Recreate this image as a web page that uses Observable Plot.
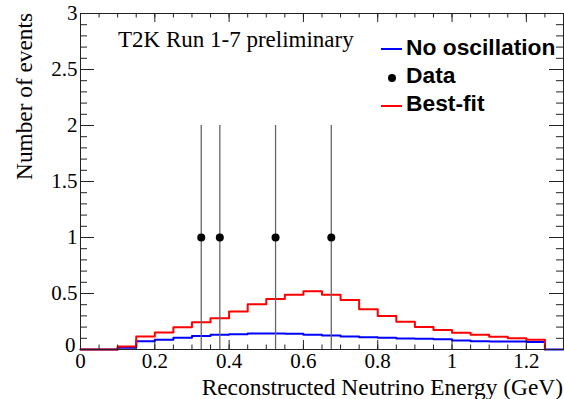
<!DOCTYPE html>
<html><head><meta charset="utf-8">
<script src="https://cdn.jsdelivr.net/npm/d3@7"></script>
<script src="https://cdn.jsdelivr.net/npm/@observablehq/plot@0.6"></script>
<style>body{margin:0;background:#fff}#chart{width:564px;height:399px}</style>
</head><body><div id="chart"></div>
<script>
// Histogram bins: lower edges (GeV), bin width 0.05, histogram ends at 1.25
const binEdges = [0,0.05,0.1,0.15,0.2,0.25,0.3,0.35,0.4,0.45,0.5,0.55,0.6,0.65,0.7,0.75,0.8,0.85,0.9,0.95,1.0,1.05,1.1,1.15,1.2];
const histEnd = 1.25;
const axisEnd = 1.3;
const bestFit = [0,0,0.027,0.116,0.152,0.199,0.244,0.28,0.339,0.405,0.45,0.488,0.521,0.488,0.443,0.36,0.298,0.247,0.202,0.173,0.149,0.131,0.113,0.101,0.086];
const noOsc   = [0,0,0.015,0.074,0.086,0.106,0.12,0.131,0.137,0.143,0.143,0.14,0.131,0.125,0.116,0.11,0.104,0.098,0.095,0.092,0.08,0.074,0.071,0.071,0.068];
// Data points
const dataX = [0.325,0.375,0.525,0.675];
const dataY = [1,1,1,1];
const dataErr = [1,1,1,1];
// Ticks
const xMajor = [0,0.2,0.4,0.6,0.8,1,1.2];
const xMinor = [0,0.05,0.1,0.15,0.2,0.25,0.3,0.35,0.4,0.45,0.5,0.55,0.6,0.65,0.7,0.75,0.8,0.85,0.9,0.95,1,1.05,1.1,1.15,1.2,1.25,1.3];
const yMajor = [0,0.5,1,1.5,2,2.5,3];
const yMinor = [0,0.1,0.2,0.3,0.4,0.5,0.6,0.7,0.8,0.9,1,1.1,1.2,1.3,1.4,1.5,1.6,1.7,1.8,1.9,2,2.1,2.2,2.3,2.4,2.5,2.6,2.7,2.8,2.9,3];
const legendLabels = ["No oscillation","Data","Best-fit"];
const titleText = "T2K Run 1-7 preliminary";
const xTitle = "Reconstructed Neutrino Energy (GeV)";
const yTitle = "Number of events";

const W = 564, H = 399, mL = 80, mR = 1, mT = 13, mB = 50;
const plotW = W - mL - mR, plotH = H - mT - mB;
const serif = "'Liberation Serif','Times New Roman',serif";
const sans = "'Liberation Sans',Arial,sans-serif";
const axisCol = "#222";

function stepPoints(vals, extend) {
  const pts = binEdges.map((e, i) => ({x: e, y: vals[i]}));
  pts.push({x: histEnd, y: 0});
  if (extend) pts.push({x: axisEnd, y: 0});
  return pts;
}
const dataPts = dataX.map((x, i) => ({x, y: dataY[i], lo: dataY[i] - dataErr[i], hi: dataY[i] + dataErr[i]}));
const fmt = d => String(+d.toFixed(1));
const yMajorNonZero = yMajor.filter(d => d !== 0);
const yZero = yMajor.filter(d => d === 0);

const plot = Plot.plot({
  width: W, height: H,
  marginLeft: mL, marginRight: mR, marginTop: mT, marginBottom: mB,
  style: {background: "white", color: "black", overflow: "visible"},
  x: {domain: [0, axisEnd]},
  y: {domain: [0, 3]},
  marks: [
    Plot.line(stepPoints(noOsc, true), {x: "x", y: "y", curve: "step-after", stroke: "#0000ff", strokeWidth: 2}),
    Plot.line(stepPoints(bestFit, false), {x: "x", y: "y", curve: "step-after", stroke: "#ff0000", strokeWidth: 2}),
    Plot.ruleX(dataPts, {x: "x", y1: "lo", y2: "hi", stroke: "#666", strokeWidth: 1.3}),
    Plot.dot(dataPts, {x: "x", y: "y", r: 4, fill: "black", stroke: null}),
    Plot.frame({stroke: axisCol, strokeWidth: 1}),
    // bottom / top ticks
    Plot.tickX(xMinor, {x: d => d, insetTop: plotH - 4.5, stroke: axisCol}),
    Plot.tickX(xMinor, {x: d => d, insetBottom: plotH - 4.5, stroke: axisCol}),
    Plot.tickX(xMajor, {x: d => d, insetTop: plotH - 9, stroke: axisCol}),
    Plot.tickX(xMajor, {x: d => d, insetBottom: plotH - 9, stroke: axisCol}),
    // left / right ticks
    Plot.tickY(yMinor, {y: d => d, insetRight: plotW - 7, stroke: axisCol}),
    Plot.tickY(yMinor, {y: d => d, insetLeft: plotW - 7, stroke: axisCol}),
    Plot.tickY(yMajor, {y: d => d, insetRight: plotW - 14, stroke: axisCol}),
    Plot.tickY(yMajor, {y: d => d, insetLeft: plotW - 14, stroke: axisCol}),
    Plot.axisX({ticks: xMajor, tickSize: 0, tickPadding: 4, tickFormat: fmt, fontSize: 21, fontFamily: serif, label: null}),
    Plot.axisY({ticks: yMajorNonZero, tickSize: 0, tickPadding: 3, tickFormat: fmt, fontSize: 21, fontFamily: serif, label: null}),
    Plot.axisY({ticks: yZero, tickSize: 0, tickPadding: 5, dy: -4, tickFormat: fmt, fontSize: 21, fontFamily: serif, label: null})
  ]
});

const svg = d3.select(plot);
svg.append("text").text(titleText)
  .attr("x", 118).attr("y", 47).attr("text-anchor", "start")
  .attr("font-family", serif).attr("font-size", 23).attr("fill", "black");

// legend
const lg = svg.append("g").attr("font-family", sans).attr("font-weight", "bold").attr("font-size", 22.8).attr("fill", "black").attr("text-anchor", "start");
const rowY = [55, 83, 111];
lg.append("line").attr("x1", 381).attr("x2", 402).attr("y1", rowY[0] - 6).attr("y2", rowY[0] - 6).attr("stroke", "#0000ff").attr("stroke-width", 2);
lg.append("circle").attr("cx", 392).attr("cy", rowY[1] - 5).attr("r", 4).attr("fill", "black");
lg.append("line").attr("x1", 381).attr("x2", 402).attr("y1", rowY[2] - 5).attr("y2", rowY[2] - 5).attr("stroke", "#ff0000").attr("stroke-width", 2);
legendLabels.forEach((t, i) => lg.append("text").text(t).attr("x", 406).attr("y", rowY[i]));

// axis titles
svg.append("text").text(xTitle)
  .attr("x", 563).attr("y", 395).attr("text-anchor", "end")
  .attr("font-family", serif).attr("font-size", 23.4).attr("fill", "black");
svg.append("text").text(yTitle)
  .attr("transform", "translate(32,13) rotate(-90)").attr("text-anchor", "end")
  .attr("font-family", serif).attr("font-size", 23.3).attr("fill", "black");

document.getElementById("chart").appendChild(plot);
</script>
</body></html>
